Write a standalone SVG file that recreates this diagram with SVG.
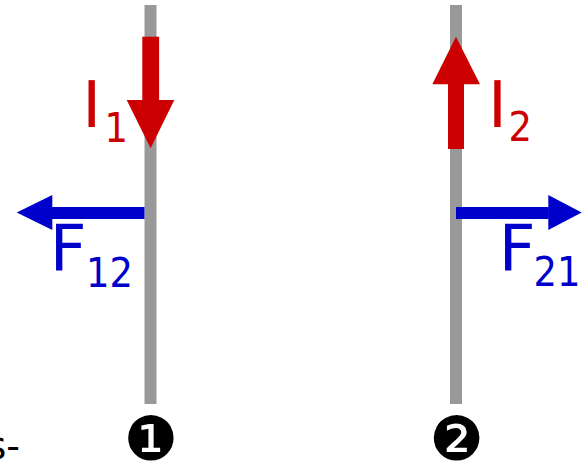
<svg xmlns="http://www.w3.org/2000/svg" width="582" height="462" viewBox="0 0 582 462">
<style>
.wire{fill:#999999}
.red{fill:#cc0000}
.blue{fill:#0000cc}
.lbl{font-family:"DejaVu Sans",Verdana,sans-serif}
.big{font-size:64px}
.sub{font-family:"DejaVu Sans Condensed","DejaVu Sans",sans-serif;font-stretch:condensed;font-size:41px}
.num{font-family:"DejaVu Sans",sans-serif;font-size:61px;fill:#000}
</style>
<rect width="582" height="462" fill="#ffffff"/>
<g id="wire1">
<rect class="wire" x="144.5" y="5" width="12" height="399"/>
<text class="num" x="150.8" y="459.5" text-anchor="middle">❶</text>
</g>
<g id="wire2">
<rect class="wire" x="450" y="5" width="12" height="399"/>
<text class="num" x="456.7" y="459.5" text-anchor="middle">❷</text>
</g>
<g id="connectors">
<g id="I1">
<rect class="red" x="142.3" y="36.7" width="16.8" height="64"/>
<polygon class="red" points="126.7,100 174.3,100 150.6,148.3"/>
</g>
<g id="I2">
<rect class="red" x="448" y="84" width="16" height="65"/>
<polygon class="red" points="432.3,84.3 480,84.3 456,36.7"/>
</g>
<g id="F12">
<rect class="blue" x="52" y="207" width="92.5" height="12"/>
<polygon class="blue" points="52.3,195 52.3,230 16.7,212.5"/>
</g>
<g id="F21">
<rect class="blue" x="456" y="207" width="92.8" height="12"/>
<polygon class="blue" points="548.3,195 548.3,230 581.7,212.5"/>
</g>
</g>
<g id="labels" class="lbl">
<text class="red big" x="91.7" y="126.7" text-anchor="middle">I</text>
<text class="red sub" x="104.5" y="141.5">1</text>
<text class="red big" x="497.5" y="126.7" text-anchor="middle">I</text>
<text class="red sub" x="508.5" y="141">2</text>
<text class="blue big" x="49.7" y="270">F</text>
<text class="blue sub" x="86" y="286.5">12</text>
<text class="blue big" x="498.7" y="269.5">F</text>
<text class="blue sub" x="533.5" y="286">21</text>
<text class="lbl" x="20" y="459" text-anchor="end" font-size="38" fill="#000">s-</text>
</g>
</svg>
